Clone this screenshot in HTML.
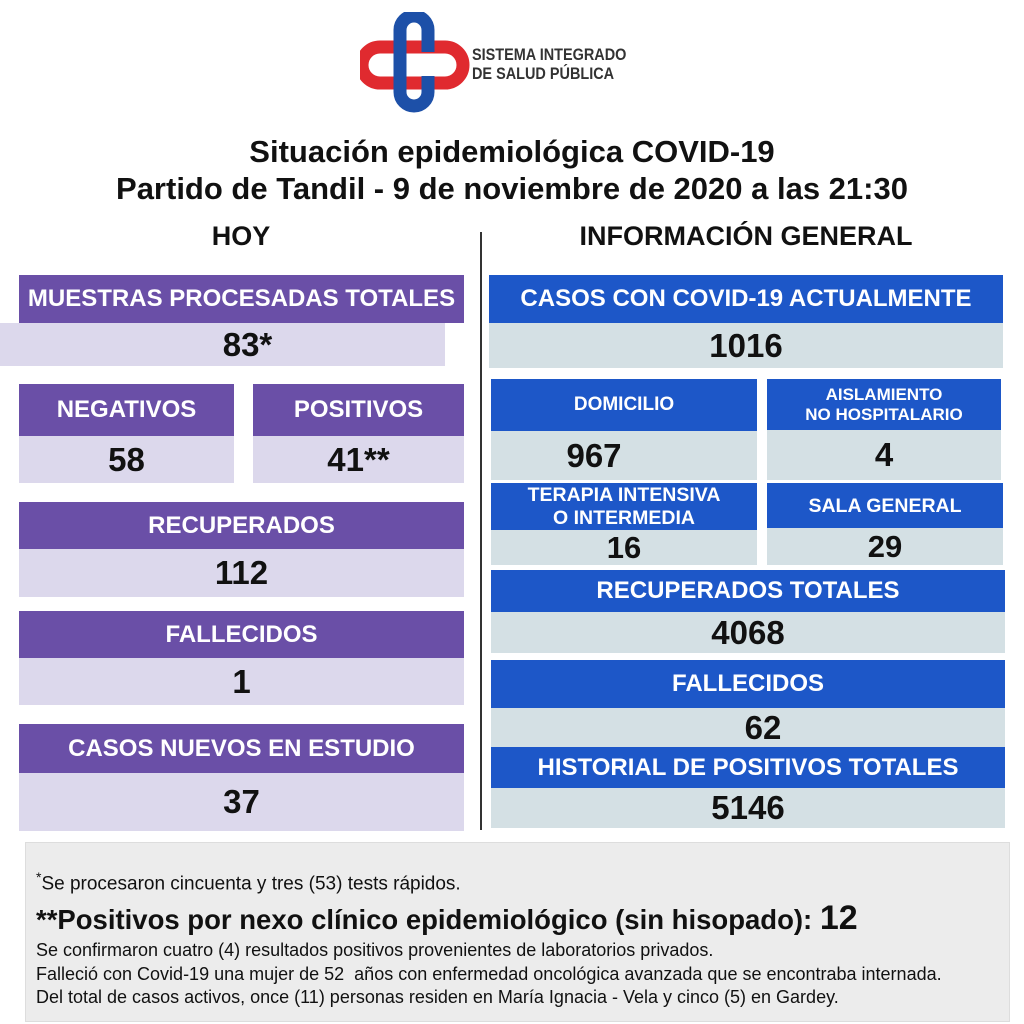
<!DOCTYPE html>
<html><head><meta charset="utf-8"><style>
body{margin:0;width:1024px;height:1024px;background:#fff;position:relative;overflow:hidden;font-family:"Liberation Sans",Arial,sans-serif}
.a{position:absolute;display:flex;align-items:center;justify-content:center;text-align:center;font-weight:bold;box-sizing:border-box}
.p{background:#6a4fa7;color:#fff;font-size:24px}
.pv{background:#dcd8ec;color:#111;font-size:33px}
.b{background:#1d57c8;color:#fff;font-size:24px}
.bv{background:#d4e0e4;color:#111;font-size:33px}
.s{font-size:17px;line-height:20px}
.t{position:absolute;left:0;width:1024px;text-align:center;font-weight:bold;font-size:31px;color:#111}
</style></head><body>
<svg style="position:absolute;left:360px;top:12px" width="110" height="104" viewBox="0 0 110 104">
<path d="M20 35 H85 a18 18 0 0 1 0 36 H70" fill="none" stroke="#e02a2f" stroke-width="13"/>
<path d="M88 71 H20 a18 18 0 0 1 0 -36 H35" fill="none" stroke="#e02a2f" stroke-width="13"/>
<path d="M54 4 a14 14 0 0 0 -14 14 V80 a14 14 0 0 0 28 0 V64" fill="none" stroke="#1d50a8" stroke-width="13"/>
<path d="M54 4 a14 14 0 0 1 14 14 V40" fill="none" stroke="#1d50a8" stroke-width="13"/>
</svg>
<div style="position:absolute;left:472px;top:45px;font-weight:bold;font-size:17px;line-height:19px;color:#333;transform:scaleX(0.85);transform-origin:left">SISTEMA INTEGRADO<br>DE SALUD PÚBLICA</div>
<div class="t" style="top:134px">Situación epidemiológica COVID-19</div>
<div class="t" style="top:171px">Partido de Tandil - 9 de noviembre de 2020 a las 21:30</div>
<div class="t" style="top:221px;left:141px;width:200px;font-size:27px">HOY</div>
<div class="t" style="top:221px;left:446px;width:600px;font-size:27px">INFORMACIÓN GENERAL</div>
<div style="position:absolute;left:480px;top:232px;width:2px;height:598px;background:#333"></div>

<div class="a p" style="left:19px;top:275px;width:445px;height:48px">MUESTRAS PROCESADAS TOTALES</div>
<div class="a pv" style="left:0;top:323px;width:445px;height:43px;padding-left:50px">83*</div>
<div class="a p" style="left:19px;top:384px;width:215px;height:52px">NEGATIVOS</div>
<div class="a pv" style="left:19px;top:436px;width:215px;height:47px">58</div>
<div class="a p" style="left:253px;top:384px;width:211px;height:52px">POSITIVOS</div>
<div class="a pv" style="left:253px;top:436px;width:211px;height:47px">41**</div>
<div class="a p" style="left:19px;top:502px;width:445px;height:47px">RECUPERADOS</div>
<div class="a pv" style="left:19px;top:549px;width:445px;height:48px">112</div>
<div class="a p" style="left:19px;top:611px;width:445px;height:47px">FALLECIDOS</div>
<div class="a pv" style="left:19px;top:658px;width:445px;height:47px">1</div>
<div class="a p" style="left:19px;top:724px;width:445px;height:49px">CASOS NUEVOS EN ESTUDIO</div>
<div class="a pv" style="left:19px;top:773px;width:445px;height:58px">37</div>

<div class="a b" style="left:489px;top:275px;width:514px;height:48px">CASOS CON COVID-19 ACTUALMENTE</div>
<div class="a bv" style="left:489px;top:323px;width:514px;height:45px">1016</div>
<div class="a b s" style="left:491px;top:379px;width:266px;height:52px;font-size:19px">DOMICILIO</div>
<div class="a bv" style="left:491px;top:431px;width:266px;height:49px;padding-right:60px">967</div>
<div class="a b s" style="left:767px;top:379px;width:234px;height:51px">AISLAMIENTO<br>NO HOSPITALARIO</div>
<div class="a bv" style="left:767px;top:430px;width:234px;height:50px">4</div>
<div class="a b s" style="left:491px;top:483px;width:266px;height:47px;font-size:19.5px;line-height:23px">TERAPIA INTENSIVA<br>O INTERMEDIA</div>
<div class="a bv" style="left:491px;top:530px;width:266px;height:35px;font-size:31px">16</div>
<div class="a b s" style="left:767px;top:483px;width:236px;height:45px;font-size:19.5px">SALA GENERAL</div>
<div class="a bv" style="left:767px;top:528px;width:236px;height:37px;font-size:31px">29</div>
<div class="a b" style="left:491px;top:570px;width:514px;height:42px">RECUPERADOS TOTALES</div>
<div class="a bv" style="left:491px;top:612px;width:514px;height:41px">4068</div>
<div class="a b" style="left:491px;top:660px;width:514px;height:48px">FALLECIDOS</div>
<div class="a bv" style="left:491px;top:708px;width:514px;height:39px;padding-left:30px">62</div>
<div class="a b" style="left:491px;top:747px;width:514px;height:41px">HISTORIAL DE POSITIVOS TOTALES</div>
<div class="a bv" style="left:491px;top:788px;width:514px;height:40px">5146</div>

<div style="position:absolute;left:25px;top:842px;width:985px;height:180px;background:#ececec;border:1px solid #ddd;box-sizing:border-box;color:#111">
<div style="position:absolute;left:10px;top:26px;font-size:19px"><sup style="font-size:14px">*</sup>Se procesaron cincuenta y tres (53) tests rápidos.</div>
<div style="position:absolute;left:10px;top:56px;font-size:27.5px;font-weight:bold;white-space:nowrap">**Positivos por nexo clínico epidemiológico (sin hisopado): <span style="font-size:34px">12</span></div>
<div style="position:absolute;left:10px;top:96px;font-size:18px;line-height:23.5px;white-space:nowrap">Se confirmaron cuatro (4) resultados positivos provenientes de laboratorios privados.<br>Falleció con Covid-19 una mujer de 52&nbsp; años con enfermedad oncológica avanzada que se encontraba internada.<br>Del total de casos activos, once (11) personas residen en María Ignacia - Vela y cinco (5) en Gardey.</div>
</div>
</body></html>
